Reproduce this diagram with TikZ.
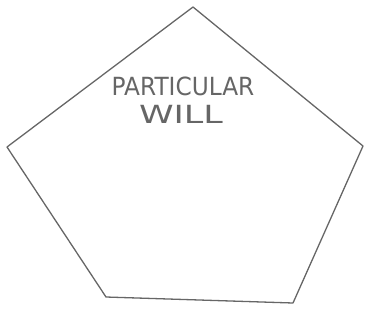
\documentclass[tikz,border=0pt]{standalone}
\usepackage{fontspec}
\setsansfont{DejaVu Sans}
\begin{document}
\begin{tikzpicture}[x=1pt,y=-1pt,
  edge/.style={draw=black!60,line width=1.3pt,line join=round},
  label/.style={text=black!60,font=\sffamily\fontsize{25}{25}\selectfont,inner sep=0pt,text depth=0pt}]
\useasboundingbox (0,0) rectangle (366,322);
\coordinate (t) at (193,7);
\coordinate (r) at (363,146);
\coordinate (br) at (293,303);
\coordinate (bl) at (106,297);
\coordinate (l) at (7,147);
\draw[edge] (t) -- (r) -- (br) -- (bl) -- (l) -- cycle;
\node[label,xscale=0.93] (w1) at (183,86) {PARTICULAR};
\node[label,xscale=1.4] (w2) at (181,114) {WILL};
\end{tikzpicture}
\end{document}
